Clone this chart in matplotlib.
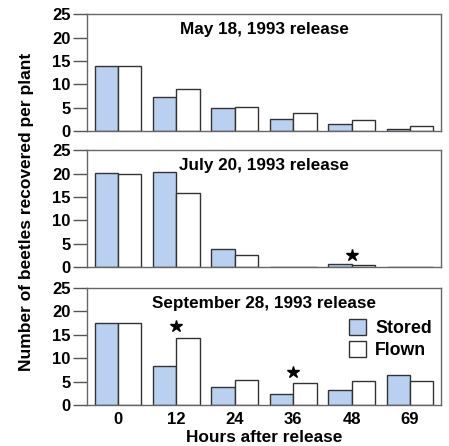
import matplotlib.pyplot as plt
import numpy as np
from matplotlib.patches import Patch

plt.rcParams['font.family'] = ['Liberation Sans', 'DejaVu Sans']
plt.rcParams['font.weight'] = 'bold'

hours = ['0', '12', '24', '36', '48', '69']
titles = ['May 18, 1993 release', 'July 20, 1993 release', 'September 28, 1993 release']

stored = [
    [14.0, 7.2, 4.9, 2.6, 1.5, 0.4],
    [20.2, 20.3, 3.9, 0.0, 0.7, 0.0],
    [17.5, 8.3, 3.8, 2.3, 3.1, 6.4],
]
flown = [
    [14.0, 9.0, 5.2, 3.8, 2.4, 1.2],
    [20.0, 15.8, 2.6, 0.0, 0.4, 0.0],
    [17.5, 14.4, 5.4, 4.6, 5.1, 5.1],
]
# significant differences: (panel, group index, y of star)
stars = [(1, 4, 2.6), (2, 1, 16.8), (2, 3, 7.1)]

blue = '#b9d0f0'
edge = '#333333'

fig = plt.figure(figsize=(4.49, 4.46), dpi=100)
bottoms = [0.706, 0.401, 0.092]
x = np.arange(len(hours))
w = 0.4
axes = []
for i in range(3):
    ax = fig.add_axes([0.194, bottoms[i], 0.788, 0.262])
    ax.bar(x - w / 2, stored[i], w, color=blue, edgecolor=edge, linewidth=1.0)
    ax.bar(x + w / 2, flown[i], w, color='white', edgecolor=edge, linewidth=1.0)
    ax.set_xlim(-0.53, 5.53)
    ax.set_ylim(0, 25)
    ax.set_yticks([0, 5, 10, 15, 20, 25])
    ax.tick_params(axis='y', length=10, width=1.0, color='#555555', labelsize=12, pad=2)
    ax.set_xticks(x)
    if i < 2:
        ax.tick_params(axis='x', length=0, labelbottom=False)
    else:
        ax.set_xticklabels(hours)
        ax.tick_params(axis='x', length=0, labelsize=12, pad=5)
    for s in ax.spines.values():
        s.set_color('#666666')
        s.set_linewidth(1.0)
    ax.text(0.5, 0.87, titles[i], transform=ax.transAxes, ha='center', va='center',
            fontsize=12.3, fontweight='bold')
    axes.append(ax)

for p, g, yv in stars:
    axes[p].plot(x[g], yv, marker='*', color='black', markersize=9, clip_on=False)

handles = [Patch(facecolor=blue, edgecolor=edge, label='Stored'),
           Patch(facecolor='white', edgecolor=edge, label='Flown')]
axes[2].legend(handles=handles, loc='upper right', bbox_to_anchor=(1.02, 0.875),
               frameon=False, prop={'size': 12.8, 'weight': 'bold'},
               handlelength=1.0, handleheight=1.0, handletextpad=0.5, labelspacing=0.25)

axes[2].set_xlabel('Hours after release', fontsize=12.4, fontweight='bold', labelpad=2)
fig.text(0.058, 0.525, 'Number of beetles recovered per plant', rotation=90,
         ha='center', va='center', fontsize=12.5, fontweight='bold')

fig.savefig('out.png', dpi=100)
